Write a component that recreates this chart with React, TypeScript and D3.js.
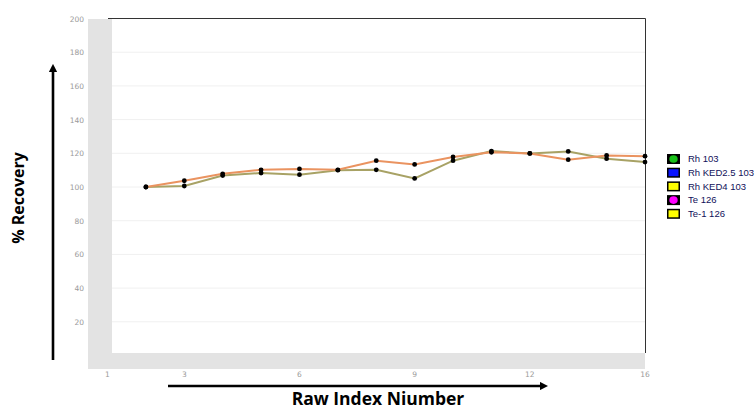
import React from "react";
import * as d3 from "d3";

const WIDTH = 756;
const HEIGHT = 409;

// Raw index positions of each measurement
const indices = [2, 3, 4, 5, 6, 7, 8, 9, 10, 11, 12, 13, 14, 15];

// % recovery per internal standard
const seriesA = [100, 103.7, 107.8, 110.2, 110.7, 110.2, 115.6, 113.4, 117.8, 120.6, 119.9, 116.2, 118.7, 118.3];
const seriesB = [100, 100.6, 106.8, 108.3, 107.3, 110.0, 110.2, 105.1, 115.6, 121.3, 119.9, 121.1, 116.8, 114.8];

const yTicks = [20, 40, 60, 80, 100, 120, 140, 160, 180, 200];
const xTickPositions = [1, 3, 6, 9, 12, 15];
const xTickLabels = ["1", "3", "6", "9", "12", "16"];

const legendNames = ["Rh 103", "Rh KED2.5 103", "Rh KED4 103", "Te 126", "Te-1 126"];
const legendFills = ["#18c018", "#0a14ff", "#ffff00", "#ff00ff", "#ffff00"];

export default function App() {
  const x = d3.scaleLinear().domain([1, 15]).range([107.5, 645]);
  const y = d3.scaleLinear().domain([0, 200]).range([355.5, 18.5]);

  const line = d3
    .line<number>()
    .x((_, i) => x(indices[i]))
    .y((d) => y(d));

  const lines = [
    { values: seriesB, color: "#a8a265" },
    { values: seriesA, color: "#ea9360" },
  ];

  return (
    <svg
      width={WIDTH}
      height={HEIGHT}
      style={{ position: "absolute", left: 0, top: 0, background: "#fff" }}
      fontFamily="Verdana, 'DejaVu Sans', sans-serif"
    >
      {/* axis bands */}
      <rect x={88} y={19} width={24} height={350} fill="#e3e3e3" />
      <rect x={88} y={353} width={557} height={16} fill="#e3e3e3" />

      {/* gridlines */}
      {yTicks.slice(0, -1).map((t) => (
        <line key={t} x1={112} x2={645} y1={y(t)} y2={y(t)} stroke="#f0f0f0" strokeWidth={1} />
      ))}

      {/* frame top and right */}
      <line x1={108} x2={645.5} y1={18.5} y2={18.5} stroke="#333" strokeWidth={1} />
      <line x1={645.5} x2={645.5} y1={18.5} y2={353} stroke="#333" strokeWidth={1} />

      {/* y tick labels */}
      {yTicks.map((t) => (
        <text key={t} x={84} y={y(t) + 3} fontSize={7.5} fill="#9a9a9a" textAnchor="end">
          {t}
        </text>
      ))}

      {/* x tick labels */}
      {xTickPositions.map((p, i) => (
        <text key={p} x={x(p)} y={377} fontSize={7.5} fill="#9a9a9a" textAnchor="middle">
          {xTickLabels[i]}
        </text>
      ))}

      {/* series */}
      {lines.map((s, k) => (
        <path key={k} d={line(s.values) || ""} fill="none" stroke={s.color} strokeWidth={2} />
      ))}
      {lines.map((s, k) =>
        s.values.map((v, i) => (
          <circle key={`${k}-${i}`} cx={x(indices[i])} cy={y(v)} r={2.4} fill="#000" />
        ))
      )}

      {/* axis arrows */}
      <defs>
        <marker id="arrowhead" viewBox="0 0 10 10" refX={5} refY={5} markerWidth={3.2} markerHeight={3.2} orient="auto">
          <path d="M0,0 L10,5 L0,10 z" fill="#000" />
        </marker>
      </defs>
      <line x1={53} x2={53} y1={360} y2={68} stroke="#000" strokeWidth={2.6} markerEnd="url(#arrowhead)" />
      <line x1={168} x2={544} y1={386} y2={386} stroke="#000" strokeWidth={2.6} markerEnd="url(#arrowhead)" />

      {/* axis titles */}
      <text
        x={378}
        y={405}
        textAnchor="middle"
        fontFamily="'Open Sans', sans-serif"
        fontWeight="bold"
        fontSize={17.5}
        fill="#000"
      >
        Raw Index Niumber
      </text>
      <text
        transform="translate(24,198) rotate(-90)"
        textAnchor="middle"
        fontFamily="'Open Sans', sans-serif"
        fontWeight="bold"
        fontSize={16}
        fill="#000"
      >
        % Recovery
      </text>

      {/* legend */}
      {legendNames.map((name, i) => {
        const cy = 159 + i * 13.7;
        return (
          <g key={name}>
            <rect x={667} y={cy - 5} width={13} height={10} fill="#000" />
            {i === 0 || i === 3 ? (
              <ellipse cx={673.5} cy={cy} rx={4.2} ry={3.8} fill={legendFills[i]} />
            ) : (
              <rect x={668.5} y={cy - 3.5} width={10} height={7} fill={legendFills[i]} />
            )}
            <text x={688} y={cy + 3.3} fontSize={9.5} fill="#10105a" fontFamily="Arial, 'Liberation Sans', sans-serif">
              {name}
            </text>
          </g>
        );
      })}
    </svg>
  );
}
